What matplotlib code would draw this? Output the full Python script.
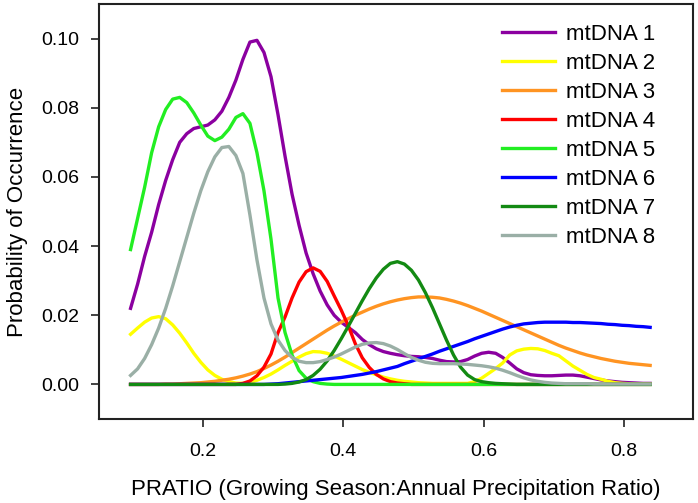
import matplotlib
matplotlib.use("Agg")
import matplotlib.pyplot as plt
import numpy as np

plt.rcParams['font.family'] = ['Liberation Sans', 'DejaVu Sans']

# PRATIO grid (step 0.01)
pratio = np.linspace(0.097, 0.837, 75)

mt1 = [0.022, 0.029, 0.037, 0.044, 0.052, 0.059, 0.065, 0.070, 0.0725, 0.074,
       0.0745, 0.075, 0.0765, 0.079, 0.083, 0.088, 0.094, 0.099, 0.0995, 0.096,
       0.089, 0.078, 0.066, 0.055, 0.046, 0.038, 0.032, 0.027, 0.023, 0.020,
       0.018, 0.0165, 0.015, 0.013, 0.0115, 0.0103, 0.0095, 0.009, 0.0086, 0.0083,
       0.0081, 0.008, 0.0078, 0.0075, 0.007, 0.0066, 0.0065, 0.0066, 0.0072, 0.0082,
       0.009, 0.0093, 0.009, 0.0078, 0.0062, 0.0045, 0.0034, 0.0028, 0.0026, 0.0025,
       0.0025, 0.0026, 0.0027, 0.0027, 0.0025, 0.0021, 0.0017, 0.0013, 0.001, 0.0008,
       0.0006, 0.0005, 0.0004, 0.0003, 0.0003]
mt2 = [0.0145, 0.0163, 0.018, 0.0192, 0.0196, 0.019, 0.0172, 0.0148, 0.012, 0.009,
       0.0064, 0.0042, 0.0026, 0.0015, 0.0008, 0.0004, 0.0003, 0.0005, 0.0012, 0.002,
       0.003, 0.0042, 0.0055, 0.0067, 0.0079, 0.0089, 0.0095, 0.0094, 0.009, 0.0082,
       0.0073, 0.0063, 0.0053, 0.0043, 0.0035, 0.0028, 0.0021, 0.0016, 0.0012, 0.0009,
       0.0007, 0.0005, 0.0004, 0.0003, 0.0003, 0.0003, 0.0003, 0.0003, 0.0003, 0.0008,
       0.0018, 0.0032, 0.0046, 0.0062, 0.0085, 0.0097, 0.0102, 0.0104, 0.0103, 0.0098,
       0.009, 0.0083, 0.0068, 0.0053, 0.0041, 0.0029, 0.002, 0.0015, 0.0009, 0.0005,
       0.0003, 0.0002, 0.0001, 0.0001, 0.0001]
mt3 = [0.0, 0.0, 0.0, 0.0, 0.0, 0.0001, 0.0001, 0.0002, 0.0003, 0.0004,
       0.0005, 0.0007, 0.0009, 0.0012, 0.0015, 0.0019, 0.0024, 0.003, 0.0037, 0.0046,
       0.0056, 0.0067, 0.0079, 0.0092, 0.0105, 0.0118, 0.0131, 0.0144, 0.0157, 0.0169,
       0.018, 0.019, 0.02, 0.0209, 0.0218, 0.0226, 0.0233, 0.0239, 0.0244, 0.0248,
       0.0251, 0.0253, 0.0253, 0.0252, 0.025, 0.0246, 0.0241, 0.0235, 0.0228, 0.022,
       0.0212, 0.0203, 0.0194, 0.0185, 0.0176, 0.0167, 0.0158, 0.0149, 0.014, 0.0131,
       0.0122, 0.0113, 0.0105, 0.0098, 0.0091, 0.0085, 0.008, 0.0075, 0.0071, 0.0067,
       0.0064, 0.0061, 0.0059, 0.0057, 0.0055]
mt4 = [0.0] * 16 + [
       0.0003, 0.001, 0.0025, 0.005,
       0.0088, 0.015, 0.0195, 0.025, 0.0296, 0.0326, 0.0337, 0.0327, 0.0298, 0.0256,
       0.0215, 0.017, 0.0118, 0.0077, 0.0049, 0.0029, 0.0016, 0.0008, 0.0004, 0.0002] + [0.0] * 35
mt5 = [0.039, 0.048, 0.057, 0.067, 0.0745, 0.0795, 0.0825, 0.083, 0.0815, 0.0785,
       0.075, 0.0718, 0.0705, 0.0715, 0.0738, 0.0772, 0.0783, 0.0755, 0.067, 0.056,
       0.042, 0.025, 0.015, 0.0085, 0.004, 0.0018, 0.0008, 0.0003, 0.0001] + [0.0] * 46
mt6 = [0.0] * 20 + [
       0.0001, 0.0002, 0.0004, 0.0006, 0.0008, 0.001, 0.0012, 0.0014, 0.0016, 0.0018,
       0.002, 0.0023, 0.0026, 0.0029, 0.0033, 0.0037, 0.0042, 0.0047, 0.0052, 0.006,
       0.0067, 0.0074, 0.0081, 0.0088, 0.0096, 0.0103, 0.011, 0.0117, 0.0124, 0.0132,
       0.0139, 0.0146, 0.0153, 0.016, 0.0166, 0.0171, 0.0175, 0.0177, 0.0179, 0.018,
       0.018, 0.018, 0.018, 0.0179, 0.0179, 0.0178, 0.0177, 0.0176, 0.0174, 0.0173,
       0.0171, 0.017, 0.0168, 0.0167, 0.0165]
mt7 = [0.0] * 22 + [
       0.0001, 0.0003, 0.0007, 0.0014, 0.0026, 0.0044, 0.0068, 0.0098,
       0.0132, 0.0168, 0.0205, 0.0242, 0.0277, 0.0308, 0.0333, 0.035, 0.0355, 0.0348,
       0.033, 0.0302, 0.0265, 0.0222, 0.0175, 0.0128, 0.0085, 0.005, 0.0027, 0.0014,
       0.0008, 0.0005, 0.0003, 0.0002, 0.0001] + [0.0] * 20
mt8 = [0.0026, 0.0045, 0.0075, 0.0115, 0.0163, 0.022, 0.0285, 0.0355, 0.0425, 0.0495,
       0.056, 0.0615, 0.0658, 0.0685, 0.0688, 0.0662, 0.061, 0.049, 0.036, 0.025,
       0.0175, 0.0128, 0.0098, 0.0078, 0.0067, 0.0063, 0.0063, 0.0066, 0.0072, 0.0079,
       0.0088, 0.0098, 0.0108, 0.0116, 0.012, 0.0121, 0.0118, 0.0111, 0.0101, 0.0089,
       0.0078, 0.007, 0.0064, 0.0061, 0.006, 0.006, 0.006, 0.0059, 0.0058, 0.0056,
       0.0054, 0.0051, 0.0047, 0.0041, 0.0034, 0.0026, 0.0019, 0.0013, 0.0009, 0.0006,
       0.0004, 0.0003, 0.0002, 0.0002, 0.0002, 0.0002, 0.0001, 0.0001, 0.0001, 0.0001,
       0.0001, 0.0001, 0.0001, 0.0001, 0.0001]

series = [mt1, mt2, mt3, mt4, mt5, mt6, mt7, mt8]
labels = ['mtDNA %d' % i for i in range(1, 9)]
colors = ['#8B00A0', '#FFFF00', '#FF9422', '#FF0000', '#22EE22', '#0000FF', '#138A13', '#9AAFA6']

fig = plt.figure(figsize=(6.98, 5.03), dpi=100)
ax = fig.add_axes([0.1418, 0.167, 0.851, 0.825])

for y, c, lab in zip(series, colors, labels):
    ax.plot(pratio, y, color=c, lw=2.4, label=lab, solid_joinstyle='round')

ax.set_xlim(0.052, 0.898)
ax.set_ylim(-0.01, 0.11)
ax.set_xticks([0.2, 0.4, 0.6, 0.8])
ax.set_xticklabels(['0.2', '0.4', '0.6', '0.8'])
ax.set_yticks([0.0, 0.02, 0.04, 0.06, 0.08, 0.10])
ax.set_yticklabels(['0.00', '0.02', '0.04', '0.06', '0.08', '0.10'])
ax.tick_params(axis='both', labelsize=14, length=6, width=1.2, color='#222222')
ax.tick_params(axis='x', pad=11)
ax.tick_params(axis='y', pad=8)
for s in ax.spines.values():
    s.set_linewidth(1.5)
    s.set_color('#222222')

ax.set_xlabel('PRATIO (Growing Season:Annual Precipitation Ratio)', fontsize=16, labelpad=14)
ax.set_ylabel('Probability of Occurrence', fontsize=16, labelpad=10)

ax.legend(loc='upper right', frameon=False, fontsize=16, handlelength=2.4,
          handletextpad=0.5, labelspacing=0.36, borderaxespad=0.3,
          bbox_to_anchor=(0.963, 0.99))

fig.savefig('out.png', dpi=100)
